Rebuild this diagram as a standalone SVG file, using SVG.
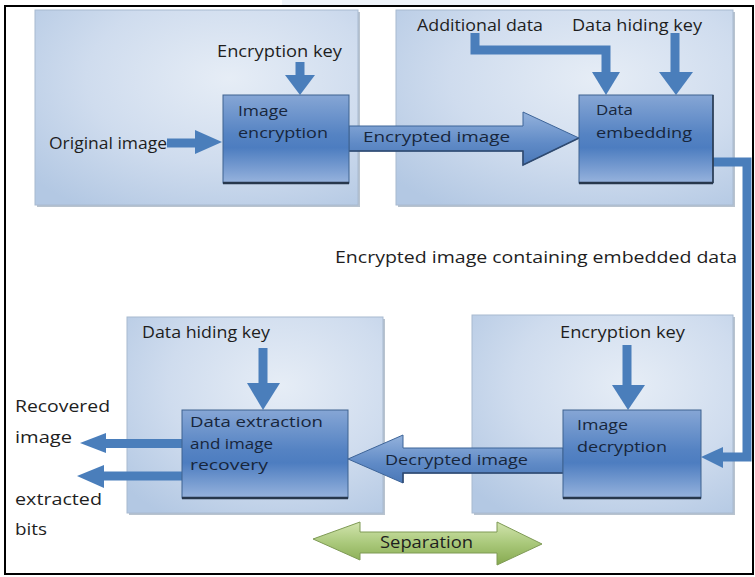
<svg xmlns="http://www.w3.org/2000/svg" width="755" height="577" viewBox="0 0 755 577">
  <defs>
    <radialGradient id="panelFill" cx="0.6" cy="0.35" r="0.8">
      <stop offset="0" stop-color="#e6edf6"/>
      <stop offset="0.55" stop-color="#cfdcee"/>
      <stop offset="1" stop-color="#b3c8e3"/>
    </radialGradient>
    <linearGradient id="boxFill" x1="0" y1="0" x2="0" y2="1">
      <stop offset="0" stop-color="#86a6d5"/>
      <stop offset="0.45" stop-color="#5583c3"/>
      <stop offset="0.6" stop-color="#4d7dc0"/>
      <stop offset="1" stop-color="#97b3dd"/>
    </linearGradient>
    <linearGradient id="bigArrowFill" x1="0" y1="0" x2="0" y2="1">
      <stop offset="0" stop-color="#94b2dc"/>
      <stop offset="0.6" stop-color="#5f8ac6"/>
      <stop offset="1" stop-color="#4a78b8"/>
    </linearGradient>
    <linearGradient id="greenFill" x1="0" y1="0" x2="0" y2="1">
      <stop offset="0" stop-color="#d2e4ae"/>
      <stop offset="0.5" stop-color="#a9c87a"/>
      <stop offset="1" stop-color="#86a94f"/>
    </linearGradient>
    <style>
      .panel { fill: url(#panelFill); stroke: #a8bad0; stroke-width: 1; }
      .shadow { fill: #9aa9bb; opacity: 0.7; }
      .box { fill: url(#boxFill); stroke: #3f628f; stroke-width: 1; }
      .boxbase { stroke: #27374c; stroke-width: 2.5; }
      .lbl { font-family: "Open Sans", "Liberation Sans", sans-serif; font-size: 16px; fill: #1e1e1e; }
      .inbox { fill: #17263c; font-size: 15px; }
      .wire { fill: none; stroke: #4a7ebb; stroke-width: 9; }
      .head { fill: #4a7ebb; }
      .big { fill: url(#bigArrowFill); stroke: #3d6498; stroke-width: 1; }
    </style>
  </defs>

  <rect width="755" height="577" fill="#ffffff"/>
  <rect x="282" y="0" width="228" height="5" fill="#eef3f9"/>
  <rect x="5" y="6" width="748" height="568" fill="none" stroke="#000000" stroke-width="2"/>

  <!-- panels -->
  <g id="panel-encrypt">
    <rect class="shadow" x="37" y="12" width="323" height="195"/>
    <rect class="panel" x="35" y="10" width="323" height="195"/>
  </g>
  <g id="panel-embed">
    <rect class="shadow" x="398" y="12" width="337" height="195"/>
    <rect class="panel" x="396" y="10" width="337" height="195"/>
  </g>
  <g id="panel-extract">
    <rect class="shadow" x="129" y="319" width="256" height="196"/>
    <rect class="panel" x="127" y="317" width="256" height="196"/>
  </g>
  <g id="panel-decrypt">
    <rect class="shadow" x="474" y="317" width="261" height="198"/>
    <rect class="panel" x="472" y="315" width="261" height="198"/>
  </g>

  <!-- connectors -->
  <g id="connectors">
    <!-- original image -> image encryption -->
    <path class="wire" d="M167,143 H197" stroke-width="7"/>
    <polygon class="head" points="195,130 222,142 195,154"/>
    <!-- encryption key -> image encryption -->
    <path class="wire" d="M300,62 V76" stroke-width="10"/>
    <polygon class="head" points="285,75 315,75 300,95"/>
    <!-- additional data -> data embedding -->
    <path class="wire" d="M475,33 V50 H606 V74" stroke-width="8"/>
    <polygon class="head" points="592,72 620,72 606,95"/>
    <!-- data hiding key -> data embedding -->
    <path class="wire" d="M675,33 V74" stroke-width="10"/>
    <polygon class="head" points="659,72 693,72 676,95"/>
    <!-- encrypted image -->
    <polygon class="big" points="349,126 523,126 523,112 579,138 523,165 523,151 349,151"/>
    <path d="M349,151 H523 V165 L579,138" fill="none" stroke="#2f4a70" stroke-width="1.5"/>
    <!-- data embedding -> image decryption -->
    <path class="wire" d="M713,162 H747 V457 H721"/>
    <polygon class="head" points="723,447 723,468 701,457"/>
    <!-- encryption key -> image decryption -->
    <path class="wire" d="M627,345 V387" stroke-width="10"/>
    <polygon class="head" points="612,385 645,385 628,410"/>
    <!-- decrypted image -->
    <polygon class="big" points="563,448 403,448 403,435 348,459 403,483 403,473 563,473"/>
    <path d="M563,473 H403 V483" fill="none" stroke="#2f4a70" stroke-width="1.5"/>
    <!-- data hiding key -> data extraction -->
    <path class="wire" d="M263,348 V385" stroke-width="10"/>
    <polygon class="head" points="247,383 280,383 263,410"/>
    <!-- outputs -->
    <path class="wire" d="M182,443.5 H103" stroke-width="7"/>
    <polygon class="head" points="106,433 80,443 106,453"/>
    <path class="wire" d="M182,476 H102" stroke-width="8"/>
    <polygon class="head" points="104,465 77,476 104,488"/>
  </g>

  <!-- processing boxes -->
  <g id="image-encryption">
    <rect class="box" x="223" y="95" width="126" height="88"/>
    <line class="boxbase" x1="223" y1="183" x2="349" y2="183"/>
    <text class="lbl inbox" x="238" y="116" textLength="50" lengthAdjust="spacingAndGlyphs">Image</text>
    <text class="lbl inbox" x="238" y="138" textLength="90" lengthAdjust="spacingAndGlyphs">encryption</text>
  </g>
  <g id="data-embedding">
    <rect class="box" x="579" y="95" width="134" height="88"/>
    <line class="boxbase" x1="579" y1="183" x2="713" y2="183"/>
    <line x1="713" y1="95" x2="713" y2="183" stroke="#27374c" stroke-width="1.5"/>
    <text class="lbl inbox" x="596" y="115" textLength="37" lengthAdjust="spacingAndGlyphs">Data</text>
    <text class="lbl inbox" x="596" y="138" textLength="96" lengthAdjust="spacingAndGlyphs">embedding</text>
  </g>
  <g id="data-extraction">
    <rect class="box" x="182" y="410" width="166" height="88"/>
    <line class="boxbase" x1="182" y1="498" x2="348" y2="498"/>
    <text class="lbl inbox" x="190" y="427" textLength="133" lengthAdjust="spacingAndGlyphs">Data extraction</text>
    <text class="lbl inbox" x="190" y="449" textLength="83" lengthAdjust="spacingAndGlyphs">and image</text>
    <text class="lbl inbox" x="190" y="470" textLength="78" lengthAdjust="spacingAndGlyphs">recovery</text>
  </g>
  <g id="image-decryption">
    <rect class="box" x="563" y="410" width="138" height="88"/>
    <line class="boxbase" x1="563" y1="498" x2="701" y2="498"/>
    <text class="lbl inbox" x="577" y="430" textLength="51" lengthAdjust="spacingAndGlyphs">Image</text>
    <text class="lbl inbox" x="577" y="452" textLength="90" lengthAdjust="spacingAndGlyphs">decryption</text>
  </g>

  <!-- separation double arrow -->
  <g id="separation">
    <polygon points="313,539 360,522 360,532 497,532 497,522 542,544 497,565 497,553 360,553 360,560" fill="url(#greenFill)" stroke="#7e9a55" stroke-width="1"/>
    <text class="lbl" x="380" y="548" textLength="93" lengthAdjust="spacingAndGlyphs" fill="#1f2a1a">Separation</text>
  </g>

  <!-- free labels -->
  <g id="labels">
    <text class="lbl" x="217" y="57" textLength="125" lengthAdjust="spacingAndGlyphs">Encryption key</text>
    <text class="lbl" x="49" y="149" textLength="118" lengthAdjust="spacingAndGlyphs">Original image</text>
    <text class="lbl inbox" x="363" y="142" textLength="147" lengthAdjust="spacingAndGlyphs">Encrypted image</text>
    <text class="lbl" x="417" y="31" textLength="126" lengthAdjust="spacingAndGlyphs">Additional data</text>
    <text class="lbl" x="572" y="31" textLength="130" lengthAdjust="spacingAndGlyphs">Data hiding key</text>
    <text class="lbl" x="335" y="263" textLength="402" lengthAdjust="spacingAndGlyphs">Encrypted image containing embedded data</text>
    <text class="lbl" x="142" y="338" textLength="128" lengthAdjust="spacingAndGlyphs">Data hiding key</text>
    <text class="lbl" x="560" y="338" textLength="125" lengthAdjust="spacingAndGlyphs">Encryption key</text>
    <text class="lbl inbox" x="385" y="465" textLength="143" lengthAdjust="spacingAndGlyphs">Decrypted image</text>
    <text class="lbl" x="15" y="412" textLength="95" lengthAdjust="spacingAndGlyphs">Recovered</text>
    <text class="lbl" x="15" y="443" textLength="57" lengthAdjust="spacingAndGlyphs">image</text>
    <text class="lbl" x="15" y="505" textLength="87" lengthAdjust="spacingAndGlyphs">extracted</text>
    <text class="lbl" x="15" y="535" textLength="32" lengthAdjust="spacingAndGlyphs">bits</text>
  </g>
</svg>
